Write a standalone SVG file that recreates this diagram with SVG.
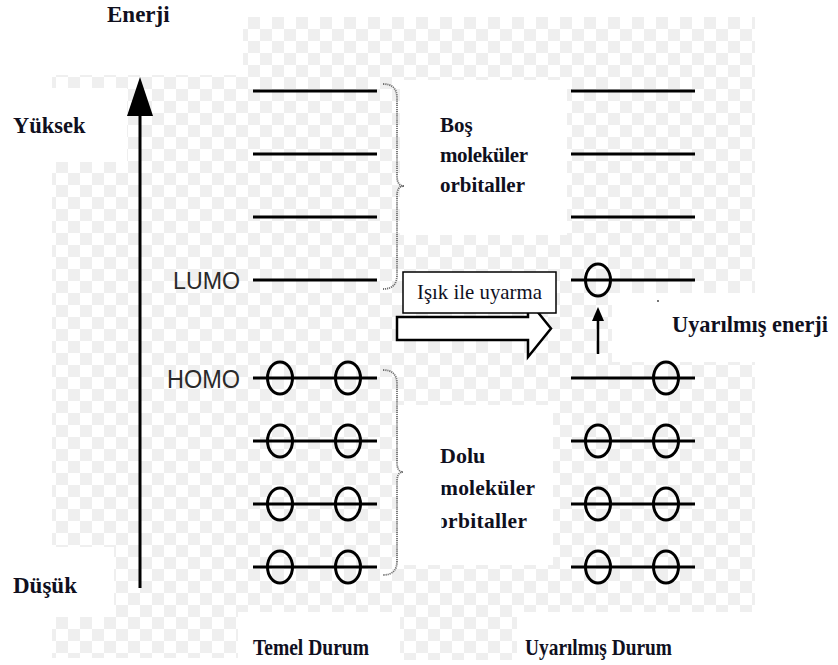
<svg xmlns="http://www.w3.org/2000/svg" width="838" height="665" viewBox="0 0 838 665">
  <defs>
    <style>
      .lvl { stroke: #000; stroke-width: 3; }
      .el { fill: none; stroke: #000; stroke-width: 3; }
      .brace { fill: none; stroke: #6e6e6e; stroke-width: 1.8; stroke-dasharray: 1.2 0.9; }
      .lab { font-family: "Liberation Serif", "Times New Roman", serif; font-weight: bold; fill: #10101e; }
      .sans { font-family: "Liberation Sans", Arial, sans-serif; fill: #2a2a2a; }
      .box { font-family: "Liberation Serif", "Times New Roman", serif; fill: #10101e; }
    </style>
    <pattern id="chk" width="24" height="24" patternUnits="userSpaceOnUse" x="8" y="17">
      <rect width="12" height="12" fill="#efefef"/>
      <rect x="12" y="12" width="12" height="12" fill="#efefef"/>
    </pattern>
    <clipPath id="dolu-clip">
      <rect x="441.5" y="470" width="150" height="70"/>
    </clipPath>
  </defs>

  <!-- background -->
  <g id="background">
    <rect width="838" height="665" fill="#fff"/>
    <rect x="52" y="17" width="703" height="600" fill="url(#chk)"/>
    <rect x="52" y="617" width="186" height="41" fill="url(#chk)"/>
    <rect x="400" y="617" width="117" height="43" fill="url(#chk)"/>
    <!-- plain areas behind labels -->
    <g fill="#fff">
      <rect x="52" y="17" width="191" height="58"/>
      <rect x="52" y="88" width="75" height="74"/>
      <rect x="52" y="547" width="62" height="70"/>
      <rect x="400" y="80" width="167" height="155"/>
      <rect x="398" y="405" width="155" height="160"/>
      <rect x="612" y="293" width="143" height="69"/>
      <rect x="238" y="612" width="162" height="53"/>
      <rect x="517" y="612" width="238" height="53"/>
    </g>
  </g>

  <!-- energy axis -->
  <g id="energy-axis">
    <line x1="140" y1="588" x2="140" y2="110" stroke="#000" stroke-width="3"/>
    <path d="M140,77 L153,116 L127,116 Z" fill="#000"/>
    <text class="lab" x="107" y="22" font-size="23">Enerji</text>
    <text class="lab" x="13" y="133" font-size="22.5">Yüksek</text>
    <text class="lab" x="13" y="593" font-size="23">Düşük</text>
  </g>

  <!-- ground state levels -->
  <g id="ground-state">
    <line class="lvl" x1="253" y1="91" x2="377" y2="91"/>
    <line class="lvl" x1="253" y1="154" x2="377" y2="154"/>
    <line class="lvl" x1="253" y1="217" x2="377" y2="217"/>
    <line class="lvl" x1="253" y1="280" x2="377" y2="280"/>
    <line class="lvl" x1="253" y1="378" x2="377" y2="378"/>
    <line class="lvl" x1="253" y1="441" x2="377" y2="441"/>
    <line class="lvl" x1="253" y1="504" x2="377" y2="504"/>
    <line class="lvl" x1="253" y1="567" x2="377" y2="567"/>
    <ellipse class="el" cx="280" cy="378" rx="12.5" ry="16"/>
    <ellipse class="el" cx="348" cy="378" rx="12.5" ry="16"/>
    <ellipse class="el" cx="280" cy="441" rx="12.5" ry="16"/>
    <ellipse class="el" cx="348" cy="441" rx="12.5" ry="16"/>
    <ellipse class="el" cx="280" cy="504" rx="12.5" ry="16"/>
    <ellipse class="el" cx="348" cy="504" rx="12.5" ry="16"/>
    <ellipse class="el" cx="280" cy="567" rx="12.5" ry="16"/>
    <ellipse class="el" cx="348" cy="567" rx="12.5" ry="16"/>
    <text class="sans" x="173" y="289" font-size="24" textLength="67" lengthAdjust="spacingAndGlyphs">LUMO</text>
    <text class="sans" x="167" y="388" font-size="25" textLength="73" lengthAdjust="spacingAndGlyphs">HOMO</text>
    <text class="lab" x="253" y="655" font-size="24" textLength="116" lengthAdjust="spacingAndGlyphs">Temel Durum</text>
  </g>

  <!-- excited state levels -->
  <g id="excited-state">
    <line class="lvl" x1="571" y1="91" x2="695" y2="91"/>
    <line class="lvl" x1="571" y1="154" x2="695" y2="154"/>
    <line class="lvl" x1="571" y1="217" x2="695" y2="217"/>
    <line class="lvl" x1="571" y1="280" x2="695" y2="280"/>
    <line class="lvl" x1="571" y1="378" x2="695" y2="378"/>
    <line class="lvl" x1="571" y1="441" x2="695" y2="441"/>
    <line class="lvl" x1="571" y1="504" x2="695" y2="504"/>
    <line class="lvl" x1="571" y1="567" x2="695" y2="567"/>
    <ellipse class="el" cx="598" cy="280" rx="12.5" ry="16"/>
    <ellipse class="el" cx="666" cy="378" rx="12.5" ry="16"/>
    <ellipse class="el" cx="598" cy="441" rx="12.5" ry="16"/>
    <ellipse class="el" cx="666" cy="441" rx="12.5" ry="16"/>
    <ellipse class="el" cx="598" cy="504" rx="12.5" ry="16"/>
    <ellipse class="el" cx="666" cy="504" rx="12.5" ry="16"/>
    <ellipse class="el" cx="598" cy="567" rx="12.5" ry="16"/>
    <ellipse class="el" cx="666" cy="567" rx="12.5" ry="16"/>
    <text class="lab" x="525" y="655" font-size="24" textLength="147" lengthAdjust="spacingAndGlyphs">Uyarılmış Durum</text>
  </g>

  <!-- orbital group braces and labels -->
  <g id="empty-orbitals">
    <path class="brace" d="M383,84 Q397,84 397,98 L397,176 Q397,186 404,186 Q397,186 397,196 L397,275 Q397,289 383,289"/>
    <text class="lab" x="440" y="132" font-size="21">Boş</text>
    <text class="lab" x="440" y="162" font-size="21" textLength="88" lengthAdjust="spacing">moleküler</text>
    <text class="lab" x="440" y="192" font-size="21" textLength="85" lengthAdjust="spacing">orbitaller</text>
  </g>
  <g id="filled-orbitals">
    <path class="brace" d="M383,370 Q397,370 397,384 L397,462 Q397,472 403,472 Q397,472 397,482 L397,561 Q397,575 383,575"/>
    <text class="lab" x="440" y="463" font-size="22">Dolu</text>
    <g clip-path="url(#dolu-clip)">
      <text class="lab" x="440" y="495" font-size="21.5" textLength="95" lengthAdjust="spacing">moleküler</text>
      <text class="lab" x="437" y="528" font-size="21.5" textLength="90" lengthAdjust="spacing">orbitaller</text>
    </g>
  </g>

  <!-- excitation -->
  <g id="connectors">
    <path d="M397,317 L528,317 L528,300 L551,328.5 L528,357 L528,340 L397,340 Z" fill="#fff" stroke="#000" stroke-width="2.5" stroke-linejoin="miter"/>
    <line x1="598" y1="354" x2="598" y2="318" stroke="#000" stroke-width="2.5"/>
    <path d="M598,307 L604,321 L592,321 Z" fill="#000"/>
  </g>
  <g id="excitation-label">
    <rect x="403" y="272" width="153" height="41" fill="#fff" stroke="#000" stroke-width="1.5"/>
    <text class="box" x="417" y="299" font-size="21" textLength="125" lengthAdjust="spacingAndGlyphs">Işık ile uyarma</text>
  </g>
  <g id="excited-energy">
    <text class="lab" x="672" y="332" font-size="24" textLength="156" lengthAdjust="spacingAndGlyphs">Uyarılmış enerji</text>
    <circle cx="658" cy="301" r="0.9" fill="#333"/>
  </g>
</svg>
